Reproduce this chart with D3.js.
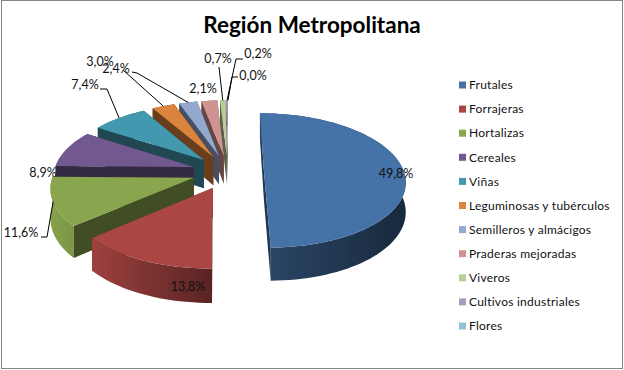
<!DOCTYPE html>
<html>
<head>
<meta charset="utf-8">
<script src="https://cdn.jsdelivr.net/npm/d3@7"></script>
<style>
  html, body { margin: 0; padding: 0; background: #fff; }
  svg { display: block; }
  .label { font-family: Lato, sans-serif; font-size: 12.5px; fill: #111; }
  .legend text { font-family: Lato, sans-serif; font-size: 12px; fill: #111; letter-spacing: 0.25px; }
  .title { font-family: Lato, sans-serif; font-size: 22.5px; font-weight: 700; fill: #000; }
</style>
</head>
<body>
<svg class="chart" width="624" height="370"></svg>
<script>
var categories = ["Frutales", "Forrajeras", "Hortalizas", "Cereales", "Viñas", "Leguminosas y tubérculos",
  "Semilleros y almácigos", "Praderas mejoradas", "Viveros", "Cultivos industriales", "Flores"];
var values = [49.8, 13.8, 11.6, 8.9, 7.4, 3.0, 2.4, 2.1, 0.7, 0.2, 0.0];
var colors = ["#4572a7", "#aa4643", "#89a54e", "#71588f", "#4198af", "#db843d",
  "#93a9cf", "#d19392", "#b9cd96", "#a99bbd", "#92c3d4"];
// side wall brightness, left and right end of the rim
var wallLeft = [0.62, 0.93, 0.98, 0.8, 0.7, 0.7, 0.7, 0.7, 0.7, 0.7, 0.7];
var wallRight = [0.36, 0.52, 0.9, 0.6, 0.5, 0.5, 0.5, 0.5, 0.5, 0.5, 0.5];

// label placement, [x, y] of text centre, and the leader line bend if any
var labelPos = [[396, 174], [188, 287], [21, 233], [43, 173], [85, 85], [100, 62], [116, 69],
  [203, 89], [218, 59], [258, 54], [253, 76]];
var leaderBend = [null, null, [[41, 237], [47, 237]], null, [[100, 89], [107, 89]], [[123, 70]],
  [[132, 72], [137, 73]], null, [[219, 67]], [[243, 59], [236, 59]], [[238, 77], [232, 77]]];

var svg = d3.select(".chart");
var defs = svg.append("defs");

svg.append("rect")
  .attr("x", 1.5).attr("y", 0.5)
  .attr("width", 621).attr("height", 368)
  .attr("fill", "#fff")
  .attr("stroke", "#868686");

svg.append("text")
  .attr("class", "title")
  .attr("x", 312).attr("y", 33)
  .attr("text-anchor", "middle")
  .text("Región Metropolitana");

// pie plane to screen
var cx = 228, cy = 172, R = 140, explode = 36, tilt = 0.472, persp = 0.0009, depth = 29;

function project(x, y, h) {
  var s = 1 / (1 - y * persp);
  return [cx + x * s, cy + (y * tilt + h) * s];
}

function slicePoint(d, angle, r, h) {
  var mid = (d.startAngle + d.endAngle) / 2;
  var x = explode * Math.sin(mid) + r * Math.sin(angle);
  var y = -explode * Math.cos(mid) - r * Math.cos(angle);
  return project(x, y, h);
}

function planeY(d, angle, r) {
  var mid = (d.startAngle + d.endAngle) / 2;
  return -explode * Math.cos(mid) - r * Math.cos(angle);
}

var pie = d3.pie().sort(null).value(function(d) { return d; });
var slices = pie(values);
var line = d3.line();

function rimAngles(d) {
  var n = Math.max(2, Math.ceil((d.endAngle - d.startAngle) / 0.04));
  return d3.range(n + 1).map(function(i) {
    return d.startAngle + (d.endAngle - d.startAngle) * i / n;
  });
}

var order = slices.map(function(d, i) { return i; }).sort(function(a, b) {
  var da = slices[a], db = slices[b];
  return planeY(da, (da.startAngle + da.endAngle) / 2, 0) - planeY(db, (db.startAngle + db.endAngle) / 2, 0);
});

var pieG = svg.append("g");

order.forEach(function(i) {
  var d = slices[i];
  if (d.value === 0) return;
  var g = pieG.append("g").attr("class", "slice");
  var base = d3.color(colors[i]);
  var angles = rimAngles(d);
  var rimX = angles.map(function(a) { return slicePoint(d, a, R, 0)[0]; });

  var grad = defs.append("linearGradient")
    .attr("id", "wall" + i)
    .attr("gradientUnits", "userSpaceOnUse")
    .attr("x1", d3.min(rimX)).attr("x2", d3.max(rimX))
    .attr("y1", 0).attr("y2", 0);
  [[0, wallLeft[i]], [1, wallRight[i]]].forEach(function(st) {
    grad.append("stop")
      .attr("offset", st[0])
      .attr("stop-color", d3.rgb(base.r * st[1], base.g * st[1], base.b * st[1]));
  });

  var faces = [];
  [d.startAngle, d.endAngle].forEach(function(a) {
    faces.push({
      y: planeY(d, a, R / 2),
      fill: base.darker(2.1),
      pts: [slicePoint(d, a, 0, 0), slicePoint(d, a, R, 0), slicePoint(d, a, R, depth), slicePoint(d, a, 0, depth)]
    });
  });
  // rim as one piece so the gradient has no seams
  var rimMid = (d.startAngle + d.endAngle) / 2;
  faces.push({
    y: planeY(d, rimMid, R / 2),
    fill: "url(#wall" + i + ")",
    pts: angles.map(function(a) { return slicePoint(d, a, R, 0); })
      .concat(angles.slice().reverse().map(function(a) { return slicePoint(d, a, R, depth); }))
  });
  faces.sort(function(a, b) { return a.y - b.y; });
  faces.forEach(function(f) {
    g.append("path")
      .attr("d", line(f.pts) + "Z")
      .attr("fill", f.fill);
  });

  var top = [slicePoint(d, 0, 0, 0)].concat(angles.map(function(a) { return slicePoint(d, a, R, 0); }));
  g.append("path")
    .attr("d", line(top) + "Z")
    .attr("fill", colors[i]);
});

// leaders run from the rim to the label
slices.forEach(function(d, i) {
  if (!leaderBend[i]) return;
  var mid = (d.startAngle + d.endAngle) / 2;
  svg.append("path")
    .attr("d", line(leaderBend[i].concat([slicePoint(d, mid, R, 0)])))
    .attr("fill", "none")
    .attr("stroke", "#000")
    .attr("stroke-width", 1);
});

var pct = d3.formatLocale({ decimal: ",", thousands: ".", grouping: [3], currency: ["", ""] }).format(".1f");

svg.selectAll(".label")
  .data(slices)
  .enter().append("text")
  .attr("class", "label")
  .attr("x", function(d, i) { return labelPos[i][0]; })
  .attr("y", function(d, i) { return labelPos[i][1]; })
  .attr("dy", ".35em")
  .attr("text-anchor", "middle")
  .text(function(d) { return pct(d.value) + "%"; });

var legendY = d3.scalePoint().domain(categories).range([85, 326]);

var legend = svg.selectAll(".legend")
  .data(categories)
  .enter().append("g")
  .attr("class", "legend")
  .attr("transform", function(d) { return "translate(459," + legendY(d) + ")"; });

legend.append("rect")
  .attr("x", 0).attr("y", -3.5)
  .attr("width", 7).attr("height", 7)
  .attr("fill", function(d, i) { return colors[i]; });

legend.append("text")
  .attr("x", 10)
  .attr("dy", ".35em")
  .text(function(d) { return d; });
</script>
</body>
</html>
